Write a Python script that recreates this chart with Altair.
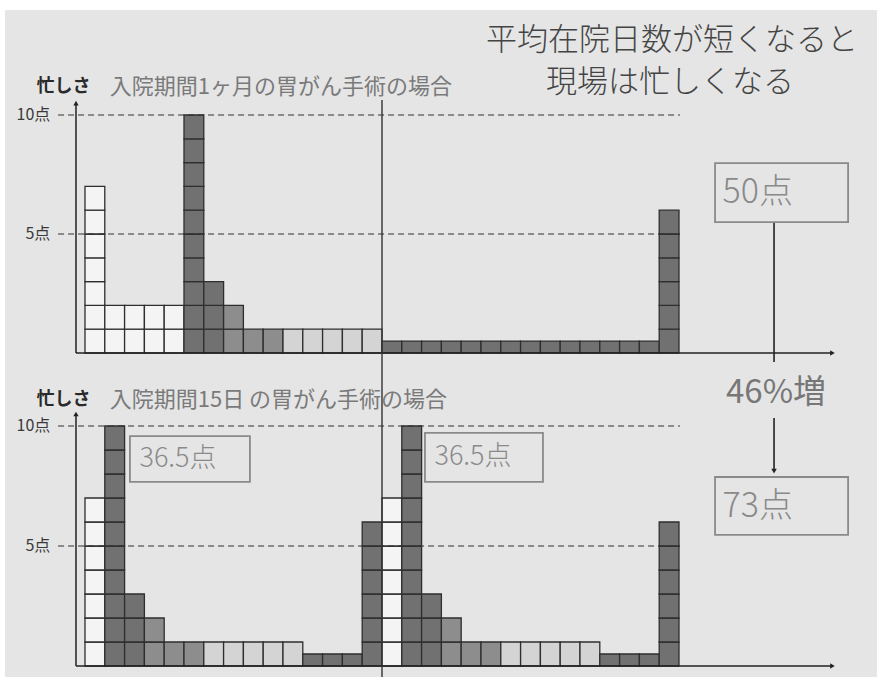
import math
import altair as alt
import pandas as pd

# ---------------- data (points per day) ----------------
# 1-month stay (30 days), top panel
top_heights = [7, 2, 2, 2, 2, 10, 3, 2, 1, 1, 1, 1, 1, 1, 1,
               0.5, 0.5, 0.5, 0.5, 0.5, 0.5, 0.5, 0.5, 0.5, 0.5, 0.5, 0.5, 0.5, 0.5, 6]
top_kinds = ["w", "w", "w", "w", "w", "d", "d", "m", "m", "m", "l", "l", "l", "l", "l",
             "d", "d", "d", "d", "d", "d", "d", "d", "d", "d", "d", "d", "d", "d", "d"]
# two 15-day stays, bottom panel
bottom_heights = [7, 10, 3, 2, 1, 1, 1, 1, 1, 1, 1, 0.5, 0.5, 0.5, 6,
                  7, 10, 3, 2, 1, 1, 1, 1, 1, 1, 1, 0.5, 0.5, 0.5, 6]
bottom_kinds = ["w", "d", "d", "m", "m", "m", "l", "l", "l", "l", "l", "d", "d", "d", "d",
                "w", "d", "d", "m", "m", "m", "l", "l", "l", "l", "l", "d", "d", "d", "d"]

kind_domain = ["w", "d", "m", "l"]
kind_colors = ["#f4f4f4", "#717171", "#8d8d8d", "#d4d4d4"]

tick_values = [10, 5]
tick_labels = ["10点", "5点"]

main_title = ["平均在院日数が短くなると", "現場は忙しくなる"]
top_subtitle = "入院期間1ヶ月の胃がん手術の場合"
bottom_subtitle = "入院期間15日 の胃がん手術の場合"
axis_name = "忙しさ"
total_top = "50点"
total_bottom = "73点"
per_stay = "36.5点"
increase = "46%増"

FONT = "Noto Sans CJK JP"
BG = "#e5e5e5"
W = 872
H_TOP, H_BOT = 360, 307
X_DOM = [-4.04, 40.0]
Y_DOM_TOP = [-0.714, 14.412]
Y_DOM_BOT = [-0.458, 12.333]


def build_cells(heights, kinds):
    rows = []
    for i, (h, k) in enumerate(zip(heights, kinds)):
        for j in range(math.ceil(h)):
            rows.append({"x": i, "x2": i + 1, "y": j, "y2": min(j + 1, h), "kind": k})
    return pd.DataFrame(rows)


def panel(heights, kinds, ydom, height, extra):
    xs = alt.Scale(domain=X_DOM, nice=False, zero=False)
    ys = alt.Scale(domain=ydom, nice=False, zero=False)

    def X(f="x"):
        return alt.X(f + ":Q", scale=xs, axis=None)

    def Y(f="y"):
        return alt.Y(f + ":Q", scale=ys, axis=None)

    cells = alt.Chart(build_cells(heights, kinds)).mark_rect(
        stroke="#2e2e2e", strokeWidth=1.3
    ).encode(
        x=X(), x2="x2:Q", y=Y(), y2="y2:Q",
        color=alt.Color("kind:N", scale=alt.Scale(domain=kind_domain, range=kind_colors), legend=None),
    )

    dashed = alt.Chart(pd.DataFrame({"y": tick_values, "x": [-1.36, -1.36], "x2": [30.05, 30.05]})).mark_rule(
        color="#333", strokeDash=[6, 4], strokeWidth=1.2
    ).encode(x=X(), x2="x2:Q", y=Y())

    ticklab = alt.Chart(pd.DataFrame({"y": tick_values, "t": tick_labels, "x": [-1.75, -1.75]})).mark_text(
        align="right", baseline="middle", fontSize=16, color="#3a3a3a", font=FONT
    ).encode(x=X(), y=Y(), text="t:N")

    axes = alt.Chart(pd.DataFrame({
        "x": [-0.455, -0.455], "x2": [-0.455, 37.7], "y": [0, 0], "y2": [10.5, 0]
    })).mark_rule(color="#222", strokeWidth=1.5).encode(x=X(), x2="x2:Q", y=Y(), y2="y2:Q")

    heads = alt.Chart(pd.DataFrame({
        "x": [-0.455, 37.75], "y": [10.5, 0], "s": ["triangle-up", "triangle-right"]
    })).mark_point(filled=True, size=28, color="#222", opacity=1).encode(
        x=X(), y=Y(), shape=alt.Shape("s:N", scale=None)
    )

    return alt.layer(cells, dashed, ticklab, axes, heads, *[e(X, Y) for e in extra]).properties(
        width=W, height=height
    )


def text_layer(df, size, color, align="left", weight="normal"):
    def make(X, Y):
        return alt.Chart(df).mark_text(
            align=align, baseline="middle", fontSize=size, color=color, font=FONT, fontWeight=weight
        ).encode(x=X(), y=Y(), text="t:N")
    return make


def rule_layer(df, color="#222", width=1.5):
    def make(X, Y):
        return alt.Chart(df).mark_rule(color=color, strokeWidth=width).encode(
            x=X(), x2="x2:Q", y=Y(), y2="y2:Q")
    return make


def box_layer(df):
    def make(X, Y):
        return alt.Chart(df).mark_rect(fill=BG, stroke="#8a8a8a", strokeWidth=1.8).encode(
            x=X(), x2="x2:Q", y=Y(), y2="y2:Q")
    return make


def point_layer(df, shape):
    def make(X, Y):
        return alt.Chart(df).mark_point(filled=True, size=30, color="#222", shape=shape, opacity=1).encode(
            x=X(), y=Y())
    return make


top_extra = [
    rule_layer(pd.DataFrame({"x": [15], "x2": [15], "y": [10.63], "y2": [-0.714]}), color="#333", width=1.4),
    rule_layer(pd.DataFrame({"x": [34.8], "x2": [34.8], "y": [5.5], "y2": [-0.38]}), color="#222", width=1.6),
    box_layer(pd.DataFrame({"x": [31.82], "x2": [38.54], "y": [7.98], "y2": [5.5]})),
    text_layer(pd.DataFrame({"x": [32.2], "y": [6.74], "t": [total_top]}), 34, "#8a8a8a", weight=300),
    text_layer(pd.DataFrame({"x": [-2.45], "y": [11.18], "t": [axis_name]}), 18, "#2a2a2a", weight="bold"),
    text_layer(pd.DataFrame({"x": [1.25], "y": [11.18], "t": [top_subtitle]}), 22, "#7a7a7a"),
    text_layer(pd.DataFrame({"x": [29.65, 29.55], "y": [13.12, 11.34], "t": main_title}), 31, "#444",
               align="center", weight=300),
]

bottom_extra = [
    rule_layer(pd.DataFrame({"x": [15], "x2": [15], "y": [12.333], "y2": [-0.458]}), color="#333", width=1.4),
    box_layer(pd.DataFrame({"x": [2.27, 17.17], "x2": [8.33, 23.13], "y": [9.58, 9.71], "y2": [7.67, 7.67]})),
    text_layer(pd.DataFrame({"x": [2.75, 17.65], "y": [8.62, 8.7], "t": [per_stay, per_stay]}), 27, "#8a8a8a", weight=300),
    text_layer(pd.DataFrame({"x": [-2.45], "y": [11.08], "t": [axis_name]}), 18, "#2a2a2a", weight="bold"),
    text_layer(pd.DataFrame({"x": [1.25], "y": [11.08], "t": [bottom_subtitle]}), 22, "#7a7a7a"),
    text_layer(pd.DataFrame({"x": [34.9], "y": [11.37], "t": [increase]}), 33, "#777", align="center"),
    rule_layer(pd.DataFrame({"x": [34.8], "x2": [34.8], "y": [10.33], "y2": [8.2]}), color="#222", width=1.6),
    point_layer(pd.DataFrame({"x": [34.8], "y": [8.12]}), "triangle-down"),
    box_layer(pd.DataFrame({"x": [31.82], "x2": [38.54], "y": [7.875], "y2": [5.46]})),
    text_layer(pd.DataFrame({"x": [32.2], "y": [6.64], "t": [total_bottom]}), 34, "#8a8a8a", weight=300),
]

top = panel(top_heights, top_kinds, Y_DOM_TOP, H_TOP, top_extra)
bottom = panel(bottom_heights, bottom_kinds, Y_DOM_BOT, H_BOT, bottom_extra)

chart = alt.vconcat(top, bottom, spacing=0, bounds="flush").resolve_scale(
    x="independent", y="independent", color="shared"
).properties(
    padding={"left": 5, "top": 10, "right": 0, "bottom": 0},
    background="white",
).configure_view(stroke=None, fill=BG).configure_concat(spacing=0)

chart.save("out.html", embed_options={"renderer": "svg", "actions": False})
